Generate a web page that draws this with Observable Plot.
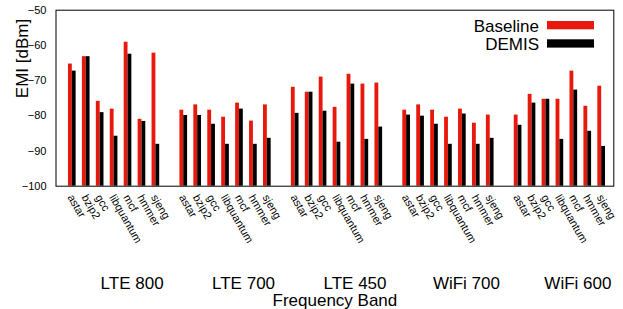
<!DOCTYPE html>
<html><head><meta charset="utf-8">
<script src="https://cdn.jsdelivr.net/npm/d3@7"></script>
<script src="https://cdn.jsdelivr.net/npm/@observablehq/plot@0.6"></script>
<style>
html,body{margin:0;padding:0;background:#fff;}
#wrap{position:relative;width:623px;height:309px;}
</style></head><body><div id="wrap"></div>
<script>
const bands = ["LTE 800", "LTE 700", "LTE 450", "WiFi 700", "WiFi 600"];
const benchmarks = ["astar", "bzip2", "gcc", "libquantum", "mcf", "hmmer", "sjeng"];
const baseline = [
  [-65.3, -63.2, -75.9, -78.1, -59.1, -81.0, -62.2],
  [-78.4, -76.9, -78.4, -80.4, -76.4, -81.5, -76.9],
  [-71.9, -73.3, -69.0, -77.6, -68.2, -71.0, -70.7],
  [-78.4, -76.9, -78.4, -80.4, -78.1, -82.1, -79.8],
  [-79.8, -73.9, -75.3, -75.3, -67.3, -77.3, -71.6]
];
const demis = [
  [-67.3, -63.2, -79.1, -85.8, -62.5, -81.6, -88.1],
  [-79.9, -79.9, -82.4, -88.1, -78.1, -88.1, -86.4],
  [-79.3, -73.3, -78.7, -87.5, -71.0, -86.7, -83.2],
  [-79.8, -80.1, -82.4, -88.1, -79.5, -88.1, -86.4],
  [-82.7, -76.4, -75.3, -86.7, -72.7, -84.4, -88.7]
];
const yTicks = [-100, -90, -80, -70, -60, -50];
const seriesNames = ["Baseline", "DEMIS"];
const seriesColors = ["#e8190c", "#000000"];

const FONT = '"Liberation Sans", Arial, Helvetica, sans-serif';
const slotsPerBand = benchmarks.length + 1;
const yMin = yTicks[0];
const half = 0.275;

const rows = [];
bands.forEach((band, g) => benchmarks.forEach((bench, i) => rows.push({
  band, bench, slot: g * slotsPerBand + i, baseline: baseline[g][i], demis: demis[g][i]
})));
const bandRows = bands.map((band, g) => ({band, slot: g * slotsPerBand + (benchmarks.length - 1) / 2}));

const chart = Plot.plot({
  width: 623, height: 309,
  marginLeft: 55.5, marginRight: 9.7, marginTop: 9.7, marginBottom: 123.3,
  style: {fontFamily: FONT, background: "white", color: "black"},
  x: {domain: [-1.17, 38.87], axis: null},
  y: {domain: [yMin, yTicks[yTicks.length - 1]], axis: null},
  marks: [
    Plot.rect(rows, {x1: d => d.slot - half, x2: "slot", y1: () => yMin, y2: "baseline", fill: seriesColors[0]}),
    Plot.rect(rows, {x1: "slot", x2: d => d.slot + half, y1: () => yMin, y2: "demis", fill: seriesColors[1]}),
    Plot.axisY(yTicks, {tickSize: 0, tickPadding: 9.5, fontSize: 11, label: null}),
    Plot.text(rows, {x: "slot", text: "bench", frameAnchor: "bottom", rotate: 60, textAnchor: "start", lineAnchor: "middle", dx: -2, dy: 9.3, fontSize: 11}),
    Plot.text(bandRows, {x: "slot", text: "band", frameAnchor: "bottom", lineAnchor: "middle", dx: 18, dy: 97.6, fontSize: 17}),
    Plot.text(["Frequency Band"], {frameAnchor: "bottom", lineAnchor: "middle", dy: 114, fontSize: 17}),
    Plot.text(["EMI [dBm]"], {frameAnchor: "left", rotate: -90, lineAnchor: "middle", dx: -33.8, fontSize: 17}),
    Plot.frame({stroke: "black", strokeWidth: 1})
  ]
});

// legend inside the frame, top-right
const svg = d3.select(chart);
const leg = svg.append("g").attr("font-family", FONT).attr("font-size", 17);
seriesNames.forEach((name, i) => {
  leg.append("text").attr("x", 539).attr("y", 31.5 + i * 18.5).attr("text-anchor", "end").attr("fill", "black").text(name);
  leg.append("rect").attr("x", 547).attr("y", 21 + i * 18.3).attr("width", 47).attr("height", 8.3).attr("fill", seriesColors[i]);
});

document.getElementById("wrap").appendChild(chart);
</script></body></html>
